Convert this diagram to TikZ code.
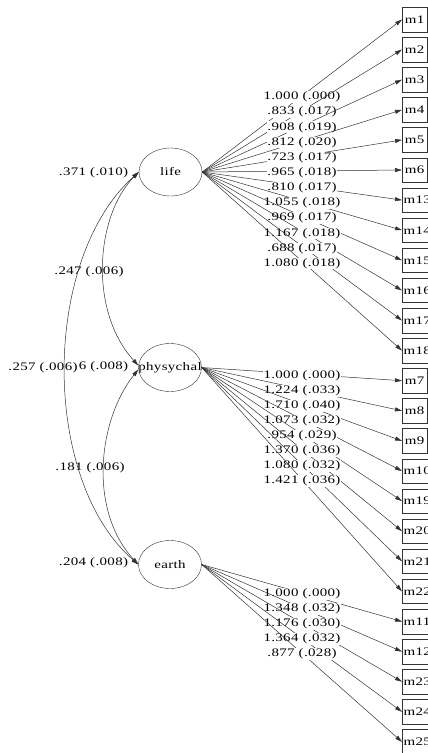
\documentclass[tikz,border=0pt]{standalone}
\usepackage{fontspec}
\setmainfont{Liberation Serif}[FakeStretch=1.3, LetterSpace=3]
\usepackage{tikz}
\usetikzlibrary{arrows.meta, shapes.geometric}

\begin{document}
\begin{tikzpicture}[x=1pt, y=-1pt,
        every node/.style={font=\fontsize{11.5}{14}\selectfont},
        lat/.style={draw=black!80, ellipse, minimum width=63pt, minimum height=48pt, inner sep=0pt},
        obs/.style={draw=black!80, anchor=west, minimum width=25pt, minimum height=24.5pt, inner xsep=1.5pt, inner ysep=0pt},
        est/.style={fill=white, inner sep=0.6pt},
        var/.style={inner sep=0.6pt},
        load/.style={draw=black!80, line width=0.5pt, -{Triangle[length=7pt, width=4pt]}},
        cov/.style={draw=black!80, line width=0.5pt, {Triangle[length=7pt, width=4pt]}-{Triangle[length=7pt, width=4pt]}}
    ]
    \useasboundingbox (0,0) rectangle (428,753);
    \clip (0,0) rectangle (428,753);

    % latent variables
    \node[lat, label=center:life] (life) at (170.5,172) {};
    \node[lat, label=center:physychal] (phys) at (170,367.5) {};
    \node[lat, label=center:earth] (earth) at (170,564.5) {};

    % indicators
    \foreach \m [count=\i from 0] in {1,2,3,4,5,6,13,14,15,16,17,18,7,8,9,10,19,20,21,22,11,12,23,24,25}
        \node[obs] (m\m) at (402,{19.5+30.1*\i}) {m\m};

    % loadings
    \foreach \m/\v [count=\i from 0] in {1/1.000 (.000), 2/.833 (.017), 3/.908 (.019), 4/.812 (.020),
            5/.723 (.017), 6/.965 (.018), 13/.810 (.017), 14/1.055 (.018), 15/.969 (.017),
            16/1.167 (.018), 17/.688 (.017), 18/1.080 (.018)} {
        \draw[load] (life.east) -- (m\m.west);
        \node[est] (e\m) at (302,{97+15.15*\i}) {\v};
    }
    \foreach \m/\v [count=\i from 0] in {7/1.000 (.000), 8/1.224 (.033), 9/1.710 (.040), 10/1.073 (.032),
            19/.954 (.029), 20/1.370 (.036), 21/1.080 (.032), 22/1.421 (.036)} {
        \draw[load] (phys.east) -- (m\m.west);
        \node[est] (e\m) at (302,{376+15*\i}) {\v};
    }
    \foreach \m/\v [count=\i from 0] in {11/1.000 (.000), 12/1.348 (.032), 23/1.176 (.030),
            24/1.364 (.032), 25/.877 (.028)} {
        \draw[load] (earth.east) -- (m\m.west);
        \node[est] (e\m) at (302,{594+15*\i}) {\v};
    }

    % variances and covariances
    \node[var] (vlife) at (93.5,173) {.371 (.010)};
    \node[var] (vphys) at (103.5,367) {6 (.008)};
    \node[var] (vearth) at (93.5,563) {.204 (.008)};
    \node[var] (clp) at (89,272) {.247 (.006)};
    \node[var] (cle) at (43,368) {.257 (.006)};
    \node[var] (cpe) at (90,468) {.181 (.006)};
    \draw[cov] (life.west) .. controls (96,215) and (88,310) .. ([yshift=2pt]phys.west);
    \draw[cov] ([yshift=-2pt]phys.west) .. controls (98,420) and (88,510) .. (earth.west);
    \draw[cov] (life.west) .. controls (41,260) and (41,480) .. (earth.west);
\end{tikzpicture}
\end{document}
